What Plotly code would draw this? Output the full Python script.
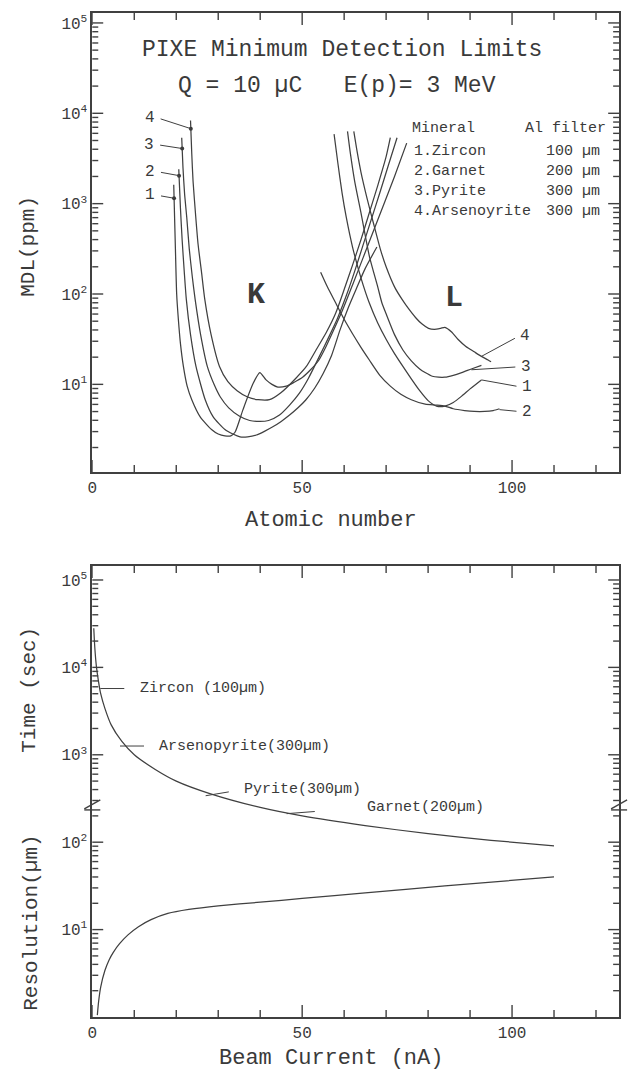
import math
import plotly.graph_objects as go

# ---------------- data: top panel (MDL vs atomic number) ----------------
K1_Z = [19.4, 19.8, 20.1, 20.5, 21.0, 21.7, 22.6, 23.7, 25.7, 28.4, 30.0, 31.6, 33.0, 34.0, 35.9, 38.3, 39.9, 41.4, 42.8, 44.2,
        46.2, 48.0, 50.1, 52.0, 54.0, 55.6, 57.2, 59.6, 62.0, 64.5, 67.0, 69.5, 72.0, 74.9]
K1_MDL = [1620, 316, 100, 52.5, 28.2, 15.8, 9.55, 6.76, 4.37, 3.16, 2.82, 2.69, 2.69, 2.95, 5.25, 10.2, 13.5, 11.2, 10.0, 9.33,
          9.55, 10.5, 12.0, 14.5, 18.6, 25.7, 37.2, 66.1, 126, 251, 501, 1000, 1995, 4677]

K2_Z = [20.6, 21.0, 21.4, 21.9, 22.4, 23.4, 24.7, 26.9, 28.8, 31.6, 33.5, 35.2, 37.0, 39.1, 41.0, 43.0, 45.0, 47.0, 49.0, 50.9,
        53.0, 55.0, 57.0, 59.0, 61.0, 63.0, 65.0, 67.8]
K2_MDL = [2399, 891, 398, 178, 87.1, 35.5, 15.8, 6.76, 4.37, 3.16, 2.82, 2.63, 2.63, 2.75, 3.02, 3.39, 3.89, 4.57, 5.5, 6.76,
          9.12, 13.2, 20.9, 39.8, 70.8, 117, 191, 331]

K3_Z = [21.3, 21.6, 22.0, 22.5, 23.1, 23.8, 24.5, 25.8, 27.4, 29.0, 30.5, 32.5, 35.0, 37.5, 39.9, 42.0, 44.6, 47.0, 49.3, 51.5,
        54.1, 56.3, 58.4, 60.5, 62.5, 64.5, 66.5, 68.5, 70.5, 72.6]
K3_MDL = [5370, 2512, 1259, 708, 316, 158, 87.1, 35.5, 15.8, 10.0, 7.24, 5.5, 4.47, 3.98, 3.89, 3.98, 4.57, 5.89, 7.94, 11.7,
          20.4, 33.1, 53.7, 95.5, 178, 347, 676, 1318, 2630, 5370]

K4_Z = [23.4, 23.7, 24.0, 24.6, 25.2, 26.0, 26.8, 28.3, 30.3, 32.3, 34.5, 37.0, 39.5, 42.2, 45.0, 48.5, 51.0, 53.3, 55.8, 58.0,
        60.0, 62.0, 64.0, 66.0, 68.0, 70.0, 71.0]
K4_MDL = [8318, 3548, 1778, 759, 355, 178, 87.1, 35.5, 15.8, 10.7, 8.51, 7.24, 6.76, 6.76, 8.13, 11.7, 15.8, 24.0, 38.0, 61.7,
          112, 209, 398, 794, 1585, 3311, 5370]

L1_Z = [57.6, 58.5, 59.5, 60.5, 62.0, 64.0, 66.0, 68.0, 70.0, 72.0, 74.0, 76.0, 78.0, 80.0, 82.0, 84.0, 86.0, 88.0, 90.0, 92.7]
L1_MDL = [5888, 2818, 1318, 708, 331, 151, 79.4, 47.9, 31.6, 21.9, 15.8, 11.5, 8.51, 6.61, 5.75, 5.75, 6.31, 7.41, 8.91, 11.2]

L2_Z = [54.4, 56.0, 58.0, 60.0, 62.0, 64.0, 66.0, 68.5, 71.0, 73.5, 76.0, 79.3, 82.0, 84.0, 86.0, 88.7, 91.0, 93.5, 95.5, 97.0]
L2_MDL = [174, 120, 79.4, 52.5, 36.3, 25.7, 18.6, 12.6, 9.55, 7.76, 6.76, 6.03, 5.89, 5.75, 5.37, 5.13, 5.01, 5.01, 5.13, 5.37]

L3_Z = [60.8, 61.5, 62.5, 64.0, 66.0, 68.0, 69.0, 70.0, 72.0, 74.0, 76.0, 78.0, 79.3, 81.0, 82.5, 84.0, 86.0, 88.0, 90.3, 92.7]
L3_MDL = [6310, 3548, 1778, 794, 263, 120, 79.4, 60.3, 35.5, 24.0, 18.2, 14.8, 13.5, 12.3, 12.0, 12.0, 12.6, 13.5, 14.8, 16.2]

L4_Z = [62.3, 63.0, 64.0, 65.5, 67.0, 68.6, 70.0, 72.0, 73.8, 75.3, 77.0, 78.5, 80.1, 81.5, 83.0, 84.0, 85.6, 87.1, 89.0, 91.0,
        92.7, 94.3, 95.0]
L4_MDL = [6310, 3981, 2239, 1122, 603, 316, 200, 120, 87.1, 69.2, 55.0, 46.8, 41.7, 40.7, 41.7, 42.7, 38.0, 31.6, 26.3, 22.9,
          20.4, 18.6, 17.8]

# curve-number label anchor points (on the curves)
K_LABELS = ["1", "2", "3", "4"]
K_LABEL_Z = [19.48, 20.66, 21.41, 23.47]
K_LABEL_MDL = [1148, 2042, 4074, 6761]
L_LABELS = ["4", "3", "1", "2"]
L_LABEL_Z = [92.7, 90.3, 92.7, 97.0]
L_LABEL_MDL = [20.4, 14.5, 11.2, 5.25]

LEGEND_MINERALS = ["1.Zircon", "2.Garnet", "3.Pyrite", "4.Arsenoyrite"]
LEGEND_FILTERS = ["100 µm", "200 µm", "300 µm", "300 µm"]

# ---------------- data: bottom panel (time / resolution vs beam current) ----------------
TIME_I = [0.35, 0.5, 0.7, 1.0, 1.5, 2.0, 3.0, 4.5, 7.0, 10, 15, 20, 28, 40, 50, 65, 80, 95, 110]
TIME_S = [28000, 20000, 14300, 10000, 6800, 5000, 3400, 2200, 1430, 1000, 680, 500, 360, 250, 200, 155, 125, 105, 91]

RES_I = [1.2, 1.5, 2.0, 3.0, 4.0, 5.0, 6.5, 8.5, 11, 14, 18, 23, 30, 40, 50, 65, 84, 110]
RES_UM = [1.05, 1.5, 2.2, 3.4, 4.5, 5.5, 6.9, 8.7, 10.8, 13.0, 15.3, 17.0, 18.7, 20.6, 22.7, 26.3, 31.6, 40.0]

T_LABELS = ["Zircon (100µm)", "Arsenopyrite(300µm)", "Pyrite(300µm)", "Garnet(200µm)"]
T_LABEL_I = [1.9, 6.6, 27.0, 46.3]
T_LABEL_S = [5730, 1260, 340, 212]
BREAK_VALUE = 234  # where the Time / Resolution break marks sit on the shared log axis

X_TICKS = [0, 50, 100]
X_MINOR = [10, 20, 30, 40, 60, 70, 80, 90, 110, 120]
Y_TICKS = [10, 100, 1000, 10000, 100000]
Y_TICKTEXT = ["10<sup>1</sup>", "10<sup>2</sup>", "10<sup>3</sup>", "10<sup>4</sup>", "10<sup>5</sup>"]
Y_MINOR = [m * 10 ** k for k in range(0, 5) for m in range(2, 10)]

# ---------------- styling ----------------
W, H = 630, 1072
FONT = "Liberation Mono, Courier New, monospace"
INK = "#3a3a3a"
AX = "#404040"
CURVE = dict(color="#404040", width=1.25, shape="spline", smoothing=0.6)

X0_PX, X1_PX = 88, 619
TOP_PX = (13, 472)
BOT_PX = (566, 1017)
PLOT_W = X1_PX - X0_PX

fig = go.Figure()

for zs, vs in [(K1_Z, K1_MDL), (K2_Z, K2_MDL), (K3_Z, K3_MDL), (K4_Z, K4_MDL),
               (L1_Z, L1_MDL), (L2_Z, L2_MDL), (L3_Z, L3_MDL), (L4_Z, L4_MDL)]:
    fig.add_trace(go.Scatter(x=zs, y=vs, mode="lines", line=CURVE, xaxis="x", yaxis="y",
                             showlegend=False, hoverinfo="skip"))

fig.add_trace(go.Scatter(x=K_LABEL_Z, y=K_LABEL_MDL, mode="markers",
                         marker=dict(size=4, color=INK), xaxis="x", yaxis="y",
                         showlegend=False, hoverinfo="skip"))

fig.add_trace(go.Scatter(x=TIME_I, y=TIME_S, mode="lines", line=CURVE, xaxis="x2", yaxis="y2",
                         showlegend=False, hoverinfo="skip"))
fig.add_trace(go.Scatter(x=RES_I, y=RES_UM, mode="lines", line=CURVE, xaxis="x2", yaxis="y2",
                         showlegend=False, hoverinfo="skip"))

def xaxis_style(anchor, domain):
    return dict(domain=domain, anchor=anchor, range=[0, 125.5], showgrid=False, zeroline=False,
                showline=True, linecolor=AX, linewidth=1.6, mirror=True,
                ticks="", tickmode="array", tickvals=X_TICKS, ticktext=[str(v) for v in X_TICKS],
                tickfont=dict(family=FONT, size=16, color=INK))

def yaxis_style(anchor, domain, rng):
    return dict(domain=domain, anchor=anchor, type="log", range=rng, showgrid=False, zeroline=False,
                showline=True, linecolor=AX, linewidth=1.6, mirror=True,
                ticks="", tickmode="array", tickvals=Y_TICKS, ticktext=Y_TICKTEXT,
                tickfont=dict(family=FONT, size=16, color=INK))

xdom = [X0_PX / W, X1_PX / W]
fig.update_layout(
    width=W, height=H, margin=dict(l=0, r=0, t=0, b=0),
    paper_bgcolor="white", plot_bgcolor="white", showlegend=False,
    xaxis=xaxis_style("y", xdom),
    yaxis=yaxis_style("x", [1 - TOP_PX[1] / H, 1 - TOP_PX[0] / H], [0.03, 5.11]),
    xaxis2=xaxis_style("y2", xdom),
    yaxis2=yaxis_style("x2", [1 - BOT_PX[1] / H, 1 - BOT_PX[0] / H], [0.0, 5.16]),
)

# ---- tick marks drawn as shapes (inside, on all four sides of both frames) ----
shapes = []
TK = dict(color=AX, width=1.4)
for xr, yr, ylo, (pt, pb) in (("x", "y", 0.03, TOP_PX), ("x2", "y2", 0.0, BOT_PX)):
    ph = pb - pt
    for vals, ln in ((X_TICKS, 12), (X_MINOR, 7)):
        f = ln / ph
        for v in vals:
            for a, b in ((0, f), (1, 1 - f)):
                shapes.append(dict(type="line", xref=xr, yref=f"{yr} domain",
                                   x0=v, x1=v, y0=a, y1=b, line=TK))
    for vals, ln in ((Y_TICKS, 11), (Y_MINOR, 6)):
        f = ln / PLOT_W
        for v in vals:
            if math.log10(v) <= ylo:
                continue
            for a, b in ((0, f), (1, 1 - f)):
                shapes.append(dict(type="line", xref=f"{xr} domain", yref=yr,
                                   x0=a, x1=b, y0=v, y1=v, line=TK))

# axis-break marks on the shared log axis of the bottom panel
for xa in (0, 1):
    for dy in (1, -10):
        shapes.append(dict(type="line", xref="x2 domain", yref="y2", xsizemode="pixel", ysizemode="pixel",
                           xanchor=xa, yanchor=BREAK_VALUE, x0=-8, x1=8, y0=dy, y1=dy + 9,
                           line=dict(color=AX, width=1.4)))
fig.update_layout(shapes=shapes)

ann = []

def paper_text(text, px, py, size, angle=0, xanchor="center", bold=False, family=FONT):
    t = f"<b>{text}</b>" if bold else text
    ann.append(dict(text=t, x=px / W, y=1 - py / H, xref="paper", yref="paper", showarrow=False,
                    xanchor=xanchor, yanchor="middle", textangle=angle,
                    font=dict(family=family, size=size, color=INK)))

# axis titles
paper_text("MDL(ppm)", 24, 246, 21, angle=-90)
paper_text("Atomic number", 329, 520, 22)
paper_text("Time (sec)", 24, 690, 21, angle=-90)
paper_text("Resolution(µm)", 26, 923, 21, angle=-90)
paper_text("Beam Current (nA)", 329, 1058, 22)

# chart titles
paper_text("PIXE Minimum Detection Limits", 340, 50, 23)
paper_text("Q = 10 µC   E(p)= 3 MeV", 335, 86, 23)

# K / L
paper_text("K", 253, 295, 30, bold=True)
paper_text("L", 453, 298, 30, bold=True)

# legend block
paper_text("Mineral", 408, 128, 15, xanchor="left")
paper_text("Al filter", 608, 128, 15, xanchor="right")
for i, (m, f) in enumerate(zip(LEGEND_MINERALS, LEGEND_FILTERS)):
    paper_text(m, 410, 152 + i * 20, 15, xanchor="left")
    paper_text(f, 602, 152 + i * 20, 15, xanchor="right")

# curve-number leaders (top panel)
k_off = [(-17, -3), (-22, -4), (-26, -4), (-34, -11)]
for lab, z, v, (ax, ay) in zip(K_LABELS, K_LABEL_Z, K_LABEL_MDL, k_off):
    ann.append(dict(text=lab, x=z, y=math.log10(v), xref="x", yref="y", showarrow=True,
                    arrowhead=0, arrowwidth=1, arrowcolor=AX, ax=ax, ay=ay, xanchor="right",
                    startstandoff=4, font=dict(family=FONT, size=16, color=INK)))
l_off = [(37, -20), (48, -3), (39, 7), (21, 2)]
for lab, z, v, (ax, ay) in zip(L_LABELS, L_LABEL_Z, L_LABEL_MDL, l_off):
    ann.append(dict(text=lab, x=z, y=math.log10(v), xref="x", yref="y", showarrow=True,
                    arrowhead=0, arrowwidth=1, arrowcolor=AX, ax=ax, ay=ay, xanchor="left",
                    startstandoff=4, font=dict(family=FONT, size=16, color=INK)))

# leaders in bottom panel
t_off = [(38, 0, 14), (37, 0, 13), (36, -6, 13), (78, -6, 50)]
for lab, i_, s, (ax, ay, so) in zip(T_LABELS, T_LABEL_I, T_LABEL_S, t_off):
    ann.append(dict(text=lab, x=i_, y=math.log10(s), xref="x2", yref="y2", showarrow=True,
                    arrowhead=0, arrowwidth=1, arrowcolor=AX, ax=ax, ay=ay, xanchor="left",
                    startstandoff=so, font=dict(family=FONT, size=15, color=INK)))

fig.update_layout(annotations=ann)

fig.write_html("out.html")
